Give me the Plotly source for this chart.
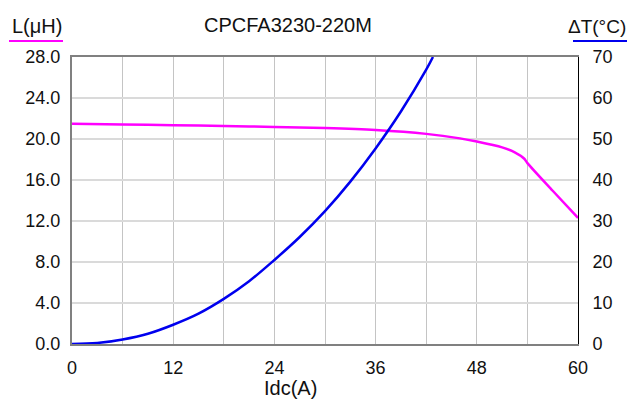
import plotly.graph_objects as go

# Inductance L(uH) vs Idc(A)
l_current = [0, 6, 12, 18, 24, 30, 36, 42, 46, 48, 51, 52.5, 53.6, 54, 57, 60]
l_values = [21.5, 21.42, 21.35, 21.27, 21.18, 21.07, 20.88, 20.5, 20.06, 19.75, 19.18, 18.7, 18.1, 17.65, 14.95, 12.3]

# Temperature rise dT(°C) vs Idc(A)
t_current = [0, 3, 6, 9, 12, 15, 18, 21, 24, 27, 30, 33, 36, 39, 42, 42.8]
t_values = [0, 0.25, 1.1, 2.5, 4.7, 7.4, 11.0, 15.3, 20.5, 26.1, 32.4, 39.6, 47.7, 56.7, 66.9, 70.0]

x_ticks = [0, 12, 24, 36, 48, 60]
l_ticks = [0, 4, 8, 12, 16, 20, 24, 28]
t_ticks = [0, 10, 20, 30, 40, 50, 60, 70]

title_text = "CPCFA3230-220M"
x_title = "Idc(A)"
l_title = "L(μH)"
t_title = "ΔT(°C)"

FONT = "Liberation Sans, Arial, sans-serif"
L_COLOR = "#ff00ff"
T_COLOR = "#0000ee"

# the page body has an 8px margin; lay out in window pixels then shift
OFF = 8
W, H = 635 - OFF, 403 - OFF
PL, PR, PT, PB = 72 - OFF, 578 - OFF, 57 - OFF, 344 - OFF

fig = go.Figure()
fig.add_trace(go.Scatter(x=l_current, y=l_values, mode="lines",
                         line=dict(color=L_COLOR, width=2.5, shape="spline", smoothing=0.8),
                         yaxis="y", showlegend=False))
fig.add_trace(go.Scatter(x=t_current, y=t_values, mode="lines",
                         line=dict(color=T_COLOR, width=2.5, shape="spline", smoothing=1.0),
                         yaxis="y2", showlegend=False))


def px(xp):
    return (xp - OFF - PL) / (PR - PL)


def py(yp):
    return (PB - (yp - OFF)) / (PB - PT)


fig.update_layout(
    width=W, height=H,
    margin=dict(l=PL, r=W - PR, t=PT, b=H - PB, pad=0),
    paper_bgcolor="white", plot_bgcolor="white",
    font=dict(family=FONT, size=18, color="#111111"),
    xaxis=dict(range=[0, 60], tickvals=x_ticks, showgrid=True, gridcolor="#c4c4c4", gridwidth=1,
               minor=dict(dtick=6, tick0=0, showgrid=True, gridcolor="#c4c4c4", gridwidth=1),
               showline=True, linecolor="#808080", linewidth=2, mirror=True,
               ticks="", ticklabelstandoff=6, zeroline=False,
               tickfont=dict(size=18)),
    yaxis=dict(range=[0, 28], tickvals=l_ticks, tickformat=".1f", showgrid=True,
               gridcolor="#dadada", gridwidth=2, showline=True, linecolor="#808080", linewidth=2,
               ticks="", ticklabelstandoff=6, zeroline=False, tickfont=dict(size=18)),
    yaxis2=dict(range=[0, 70], tickvals=t_ticks, overlaying="y", side="right", showgrid=False,
                showline=True, linecolor="#000000", linewidth=1, ticks="", ticklabelstandoff=10,
                zeroline=False, tickfont=dict(size=18)),
)

anns = [
    (title_text, 288, 25, "center", 20),
    (l_title, 36.5, 26, "center", 20),
    (t_title, 627.5, 26, "right", 19),
    (x_title, 290, 388, "center", 20),
]
for text, xp, yp, anchor, size in anns:
    fig.add_annotation(text=text, x=px(xp), y=py(yp), xref="paper", yref="paper",
                       showarrow=False, xanchor=anchor, yanchor="middle",
                       font=dict(family=FONT, size=size, color="#111111"))

fig.add_shape(type="line", xref="paper", yref="paper", x0=px(9), x1=px(63), y0=py(41), y1=py(41),
              line=dict(color=L_COLOR, width=2))
fig.add_shape(type="line", xref="paper", yref="paper", x0=px(573), x1=px(627), y0=py(41), y1=py(41),
              line=dict(color=T_COLOR, width=2))

fig.write_html("out.html")
